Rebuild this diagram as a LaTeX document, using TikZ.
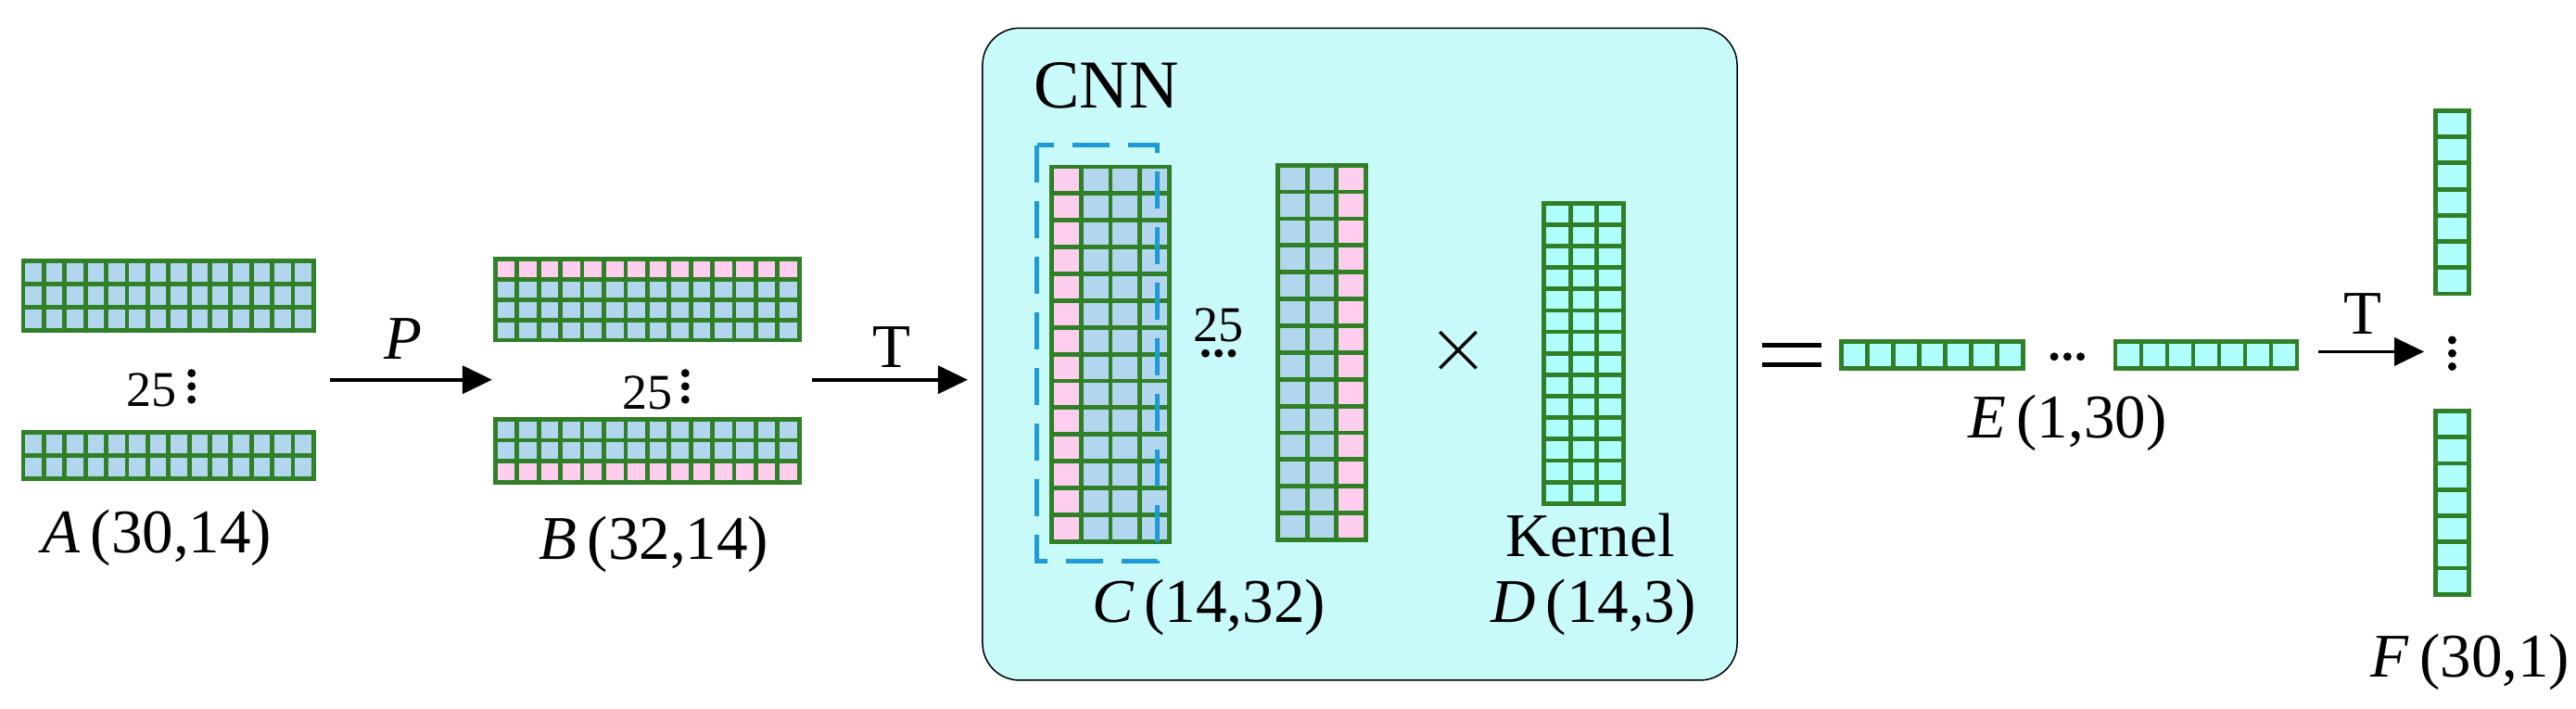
\documentclass[tikz,border=0pt]{standalone}
\usepackage{fontspec}
\setmainfont{Liberation Serif}
\usetikzlibrary{arrows.meta}
\definecolor{gr}{RGB}{48,128,40}
\definecolor{bl}{RGB}{178,214,238}
\definecolor{pk}{RGB}{255,206,238}
\definecolor{cy}{RGB}{176,255,255}
\definecolor{panel}{RGB}{200,250,250}
\definecolor{dashblue}{RGB}{30,155,215}
\newcommand\matgrid[6]{%
  \foreach \i in {0,...,#5} \draw[gridline] ({#1+(#3-#1)*\i/#5},#2) -- ({#1+(#3-#1)*\i/#5},#4);
  \foreach \j in {0,...,#6} \draw[gridline] (#1,{#2+(#4-#2)*\j/#6}) -- (#3,{#2+(#4-#2)*\j/#6});
}
\newcommand\vdts[2]{\foreach \k in {-1,0,1} \fill ({#1},{#2+\k*8}) circle (2.5);}
\newcommand\hdts[2]{\foreach \k in {-1,0,1} \fill ({#1+\k*8},{#2}) circle (2.5);}
\begin{document}
\begin{tikzpicture}[x=1.7814pt,y=-1.7814pt,
  gridline/.style={draw=gr,line width=4.8pt,line cap=rect},
  lab/.style={font=\fontsize{67}{72}\selectfont,inner sep=0pt},
  num/.style={font=\fontsize{54}{58}\selectfont,inner sep=0pt},
  arr/.style={line width=3.6pt,-{Triangle[length=32pt,width=30pt]}}]
\useasboundingbox (0,0) rectangle (1560,429);
% A
\fill[bl] (14,158) rectangle (190,200); \matgrid{14}{158}{190}{200}{14}{3}
\fill[bl] (14,262) rectangle (190,290); \matgrid{14}{262}{190}{290}{14}{2}
\node[num] (a25) at (92,236) {25};
\vdts{116}{234}
\node[lab] (alab) at (95,326) {\textit{A}\,(30,14)};
% arrow P
\coordinate (p1) at (200,230); \coordinate (p2) at (298,230);
\draw[arr] (p1) -- (p2);
\node[lab] (plab) at (244,205) {\textit{P}};
% B
\fill[bl] (300,157) rectangle (484,206); \fill[pk] (300,157) rectangle (484,169.25);
\matgrid{300}{157}{484}{206}{14}{4}
\fill[bl] (300,254) rectangle (484,292); \fill[pk] (300,279.3) rectangle (484,292);
\matgrid{300}{254}{484}{292}{14}{3}
\node[num] (b25) at (392,238) {25};
\vdts{415}{234}
\node[lab] (blab) at (396,330) {\textit{B}\,(32,14)};
% arrow T
\coordinate (t1) at (492,230); \coordinate (t2) at (586,230);
\draw[arr] (t1) -- (t2);
\node[lab] (tlab) at (540,210) {T};
% panel
\draw[line width=1.5pt,fill=panel,rounded corners=40] (595,17) rectangle (1052,412);
\node[font=\fontsize{74}{78}\selectfont,inner sep=0pt] (cnn) at (670,52) {CNN};
% C
\fill[bl] (637,101) rectangle (708,328); \fill[pk] (637,101) rectangle (654.75,328);
\matgrid{637}{101}{708}{328}{4}{14}
\draw[dashblue,line width=4.6pt,dash pattern=on 40pt off 20pt] (628,88) rectangle (701,340);
\node[num] (c25) at (738,197) {25};
\hdts{738}{214}
\fill[bl] (774,100) rectangle (827,327); \fill[pk] (809.3,100) rectangle (827,327);
\matgrid{774}{100}{827}{327}{3}{14}
\coordinate (x1) at (872,201); \coordinate (x2) at (894,223);
\coordinate (x3) at (872,223); \coordinate (x4) at (894,201);
\draw[line width=3.4pt] (x1) -- (x2) (x3) -- (x4);
% kernel D
\fill[cy] (935,123) rectangle (983,305);
\matgrid{935}{123}{983}{305}{3}{14}
\node[lab] (kern) at (963,324) {Kernel};
\node[lab] (clab) at (732,368) {\textit{C}\,(14,32)};
\node[lab] (dlab) at (965,368) {\textit{D}\,(14,3)};
% equals
\coordinate (e1) at (1067,209); \coordinate (e2) at (1103,209);
\coordinate (e3) at (1067,221); \coordinate (e4) at (1103,221);
\draw[line width=4.5pt] (e1) -- (e2) (e3) -- (e4);
% E
\fill[cy] (1115,207) rectangle (1225,223); \matgrid{1115}{207}{1225}{223}{7}{1}
\hdts{1252}{216}
\fill[cy] (1281,207) rectangle (1391,223); \matgrid{1281}{207}{1391}{223}{7}{1}
\node[lab] (elab) at (1252,256) {\textit{E}\,(1,30)};
% arrow T2
\coordinate (u1) at (1404,213); \coordinate (u2) at (1468,213);
\draw[arr] (u1) -- (u2);
\node[lab] (ulab) at (1431,190) {T};
% F
\fill[cy] (1475,67) rectangle (1495,178); \matgrid{1475}{67}{1495}{178}{1}{7}
\vdts{1485}{214}
\fill[cy] (1475,249) rectangle (1495,360); \matgrid{1475}{249}{1495}{360}{1}{7}
\node[lab] (flab) at (1496,401) {\textit{F}\,(30,1)};
\end{tikzpicture}
\end{document}
